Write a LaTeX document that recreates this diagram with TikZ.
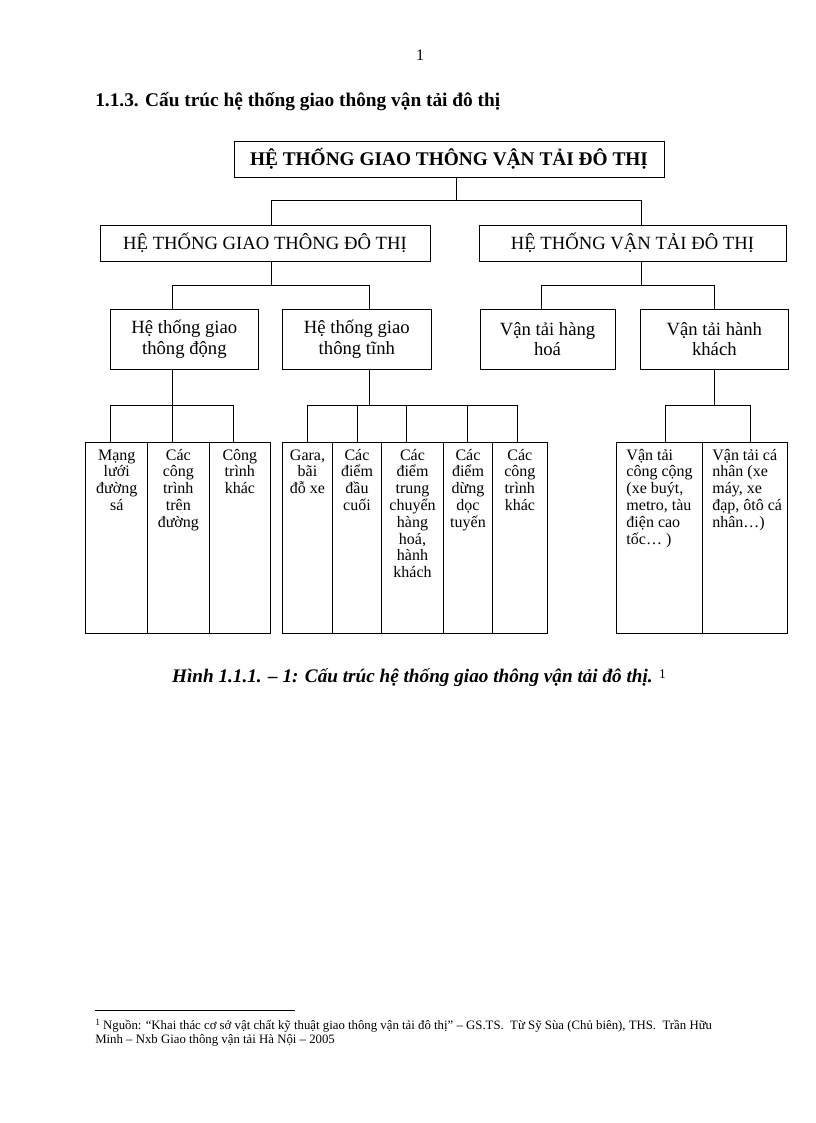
\documentclass[tikz,border=0pt]{standalone}
\usepackage{fontspec}
\setmainfont{Liberation Serif}
\newcommand{\cellc}[2]{\parbox[c][143pt][t]{#1}{\centering\fontsize{12}{12.6}\selectfont\rule{0pt}{13.5pt}#2}}
\newcommand{\celll}[2]{\parbox[c][143pt][t]{#1}{\raggedright\leftskip=6.5pt\fontsize{12}{12.6}\selectfont\rule{0pt}{13.5pt}#2}}
\begin{document}
\begin{tikzpicture}[x=0.75pt,y=-0.75pt,
  conn/.style={line width=0.6pt},
  box/.style n args={4}{draw, line width=0.6pt, inner sep=0pt, outer sep=0pt,
     minimum width={(#3-#1)*0.75pt}, minimum height={(#4-#2)*0.75pt},
     at={({(#1+#3)/2},{(#2+#4)/2})}},
  topfont/.style={font=\fontsize{14.5}{16}\selectfont\bfseries},
  l2font/.style={font=\fontsize{14}{16}\selectfont},
  l3font/.style={font=\fontsize{14}{15.5}\selectfont, align=center}
]
\useasboundingbox (0,0) rectangle (816,1123);

% page number and heading
\node[anchor=base, font=\fontsize{12}{14}\selectfont] (pg) at (420,61) {1};
\node[anchor=base west, inner sep=0pt, font=\fontsize{14.5}{16}\selectfont\bfseries] (head) at (95,107) {1.1.3. Cấu trúc hệ thống giao thông vận tải đô thị};

% level 1
\node[box={234}{141}{664}{177}, topfont] (top) {HỆ THỐNG GIAO THÔNG VẬN TẢI ĐÔ THỊ};
% level 2
\node[box={100}{225}{430}{261}, l2font] (l2a) {HỆ THỐNG GIAO THÔNG ĐÔ THỊ};
\node[box={479}{225}{786}{261}, l2font] (l2b) {HỆ THỐNG VẬN TẢI ĐÔ THỊ};
% level 3
\node[box={110.7}{309}{258}{369}, l3font] (l3a) {Hệ thống giao\\thông động};
\node[box={282.7}{309}{431}{369}, l3font] (l3b) {Hệ thống giao\\thông tĩnh};
\node[box={480}{309}{615}{369}, l3font] (l3c) {Vận tải hàng\\hoá};
\node[box={640.7}{309}{788}{369}, l3font] (l3d) {Vận tải hành\\khách};
% level 4
\node[box={85.7}{442}{147.7}{633}] (g1a) {\cellc{44pt}{Mạng\\lưới\\đường\\sá}};
\node[box={147.7}{442}{209}{633}] (g1b) {\cellc{44pt}{Các\\công\\trình\\trên\\đường}};
\node[box={209}{442}{270.7}{633}] (g1c) {\cellc{44pt}{Công\\trình\\khác}};
\node[box={282.7}{442}{332.3}{633}] (g2a) {\cellc{35pt}{Gara,\\bãi\\đỗ xe}};
\node[box={332.3}{442}{381.7}{633}] (g2b) {\cellc{35pt}{Các\\điểm\\đầu\\cuối}};
\node[box={381.7}{442}{443.3}{633}] (g2c) {\cellc{44pt}{Các\\điểm\\trung\\chuyển\\hàng\\hoá,\\hành\\khách}};
\node[box={443.3}{442}{492.7}{633}] (g2d) {\cellc{35pt}{Các\\điểm\\dừng\\dọc\\tuyến}};
\node[box={492.7}{442}{547}{633}] (g2e) {\cellc{38pt}{Các\\công\\trình\\khác}};
\node[box={616}{442}{702.3}{633}] (g3a) {\celll{62pt}{Vận tải\\công cộng\\(xe buýt,\\metro, tàu\\điện cao\\tốc… )}};
\node[box={702.3}{442}{787.7}{633}] (g3b) {\celll{62pt}{Vận tải cá\\nhân (xe\\máy, xe\\đạp, ôtô cá\\nhân…)}};

% connectors level 1 -> 2
\coordinate (j0) at (456,200);
\coordinate (j1) at (271,200);
\coordinate (j2) at (641,200);
\draw[conn] (top.south -| j0) -- (j0);
\draw[conn] (l2a.north -| j1) -- (j1) -- (j2) -- (l2b.north -| j2);

% level 2 -> 3
\coordinate (ka) at (271,285);
\coordinate (k1) at (172,285);
\coordinate (k2) at (369,285);
\draw[conn] (l2a.south -| ka) -- (ka);
\draw[conn] (l3a.north -| k1) -- (k1) -- (k2) -- (l3b.north -| k2);
\coordinate (kb) at (641,285);
\coordinate (k3) at (541,285);
\coordinate (k4) at (714,285);
\draw[conn] (l2b.south -| kb) -- (kb);
\draw[conn] (l3c.north -| k3) -- (k3) -- (k4) -- (l3d.north -| k4);

% level 3 -> 4
\coordinate (ma) at (172,405);
\draw[conn] (l3a.south -| ma) -- (ma);
\coordinate (m11) at (110.7,405);
\coordinate (m13) at (233.5,405);
\draw[conn] (m11) -- (m13);
\foreach \x/\n in {110.7/g1a,172/g1b,233.5/g1c}{
  \coordinate (d) at (\x,405);
  \draw[conn] (d) -- (\n.north -| d);
}
\coordinate (mb) at (369,405);
\draw[conn] (l3b.south -| mb) -- (mb);
\coordinate (m21) at (307.7,405);
\coordinate (m25) at (517.3,405);
\draw[conn] (m21) -- (m25);
\foreach \x/\n in {307.7/g2a,357.3/g2b,406.3/g2c,467.3/g2d,517.3/g2e}{
  \coordinate (d) at (\x,405);
  \draw[conn] (d) -- (\n.north -| d);
}
\coordinate (mc) at (714,405);
\draw[conn] (l3d.south -| mc) -- (mc);
\coordinate (m31) at (665,405);
\coordinate (m32) at (750.7,405);
\draw[conn] (g3a.north -| m31) -- (m31) -- (m32) -- (g3b.north -| m32);

% caption
\node[anchor=base, inner sep=0pt, font=\fontsize{14.4}{16}\selectfont\bfseries\itshape] (cap) at (419,682)
  {Hình 1.1.1. – 1: Cấu trúc hệ thống giao thông vận tải đô thị. \raisebox{3pt}{\normalfont\fontsize{10}{12}\selectfont 1}};

% footnote
\draw[line width=0.5pt] (95,1010) -- (295,1010);
\node[anchor=base west, inner sep=0pt, align=left, font=\fontsize{9.6}{10.5}\selectfont] (fn) at (95,1043)
  {\raisebox{3pt}{\fontsize{7}{8}\selectfont 1} Nguồn: “Khai thác cơ sở vật chất kỹ thuật giao thông vận tải đô thị” – GS.TS.\ \ Từ Sỹ Sùa (Chủ biên), THS.\ \ Trần Hữu\\Minh – Nxb Giao thông vận tải Hà Nội – 2005};
\end{tikzpicture}
\end{document}
